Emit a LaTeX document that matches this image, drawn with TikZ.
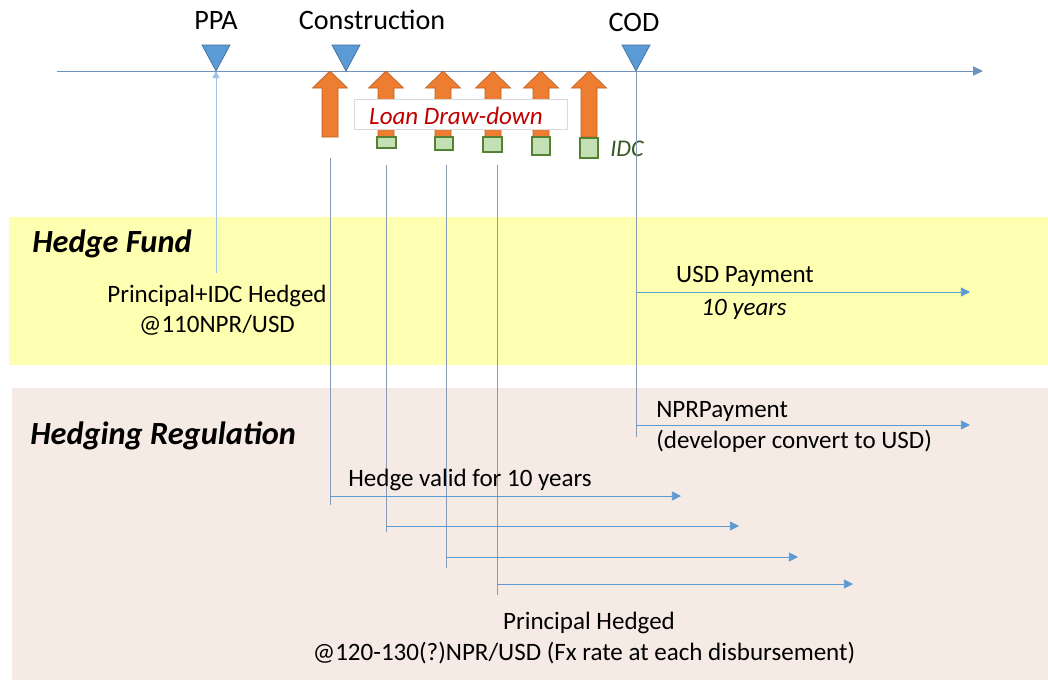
\documentclass[tikz,border=0pt]{standalone}
\usepackage{fontspec}
\setmainfont{Carlito}
\usetikzlibrary{arrows.meta}
\definecolor{axisblue}{RGB}{112,146,190}
\definecolor{lineblue}{RGB}{91,155,213}
\definecolor{paleblue}{RGB}{157,195,230}
\definecolor{stemgray}{RGB}{135,155,180}
\definecolor{markfill}{RGB}{91,155,213}
\definecolor{markdraw}{RGB}{65,113,156}
\definecolor{drawfill}{RGB}{237,125,49}
\definecolor{drawedge}{RGB}{190,95,35}
\definecolor{idcfill}{RGB}{197,224,180}
\definecolor{idcedge}{RGB}{84,130,53}
\definecolor{idctext}{RGB}{56,87,35}
\definecolor{loanred}{RGB}{192,0,0}
\definecolor{bandyellow}{RGB}{255,255,178}
\definecolor{bandpink}{RGB}{245,235,228}
\tikzstyle{arrow} = [lineblue,line width=0.6pt,-{Triangle[length=6.5pt,width=6.5pt]}]
\tikzstyle{stem} = [stemgray,line width=0.6pt]
\tikzstyle{marker} = [fill=markfill,draw=markdraw,line width=0.5pt]
\tikzstyle{drawdown} = [fill=drawfill,draw=drawedge,line width=0.5pt]
\tikzstyle{idcbox} = [fill=idcfill,draw=idcedge,line width=0.8pt]
\tikzstyle{label} = [inner sep=0pt,font=\fontsize{17.8}{20}\selectfont]
\tikzstyle{title} = [inner sep=0pt,font=\fontsize{20}{23}\selectfont]
\tikzstyle{band} = [inner sep=0pt,anchor=west,font=\fontsize{23}{26}\selectfont\bfseries\itshape]

\begin{document}
\begin{tikzpicture}[x=0.025cm,y=-0.025cm]
\useasboundingbox (0,0) rectangle (1048,680);
\fill [white] (0,0) rectangle (1048,680);
\fill [bandyellow] (9,217) rectangle (1048,365);
\fill [bandpink] (12,388) rectangle (1048,680);

\coordinate (start) at (57,71);
\coordinate (end) at (983,71);
\draw [axisblue,line width=0.7pt,-{Triangle[length=7pt,width=6.5pt]}] (start) -- (end);

\coordinate (ppa) at (216,71);
\coordinate (cons) at (346,71);
\coordinate (cod) at (636,71);
\draw [marker] (ppa) -- (202,45) -- (230,45) -- cycle;
\draw [marker] (cons) -- (332,45) -- (360,45) -- cycle;
\draw [marker] (cod) -- (622,45) -- (650,45) -- cycle;

\node [title] (ppalbl) at (216,20) {PPA};
\node [title] (conslbl) at (372,20) {Construction};
\node [title] (codlbl) at (634,22) {COD};

\coordinate (ppabot) at (216,273);
\draw [paleblue,line width=0.7pt,-{Triangle[length=5pt,width=5pt]}] (ppabot) -- (ppa);

\draw [drawdown] (330,71) -- (347.5,88) -- (338,88) -- (338,137) -- (322,137) -- (322,88) -- (312.5,88) -- cycle;
\draw [drawdown] (386,71) -- (403.5,88) -- (394,88) -- (394,137) -- (378,137) -- (378,88) -- (368.5,88) -- cycle;
\draw [drawdown] (443,71) -- (460.5,88) -- (451,88) -- (451,137) -- (435,137) -- (435,88) -- (425.5,88) -- cycle;
\draw [drawdown] (493,71) -- (510.5,88) -- (501,88) -- (501,137) -- (485,137) -- (485,88) -- (475.5,88) -- cycle;
\draw [drawdown] (541,71) -- (558.5,88) -- (549,88) -- (549,137) -- (533,137) -- (533,88) -- (523.5,88) -- cycle;
\draw [drawdown] (589,71) -- (606.5,88) -- (597,88) -- (597,137) -- (581,137) -- (581,88) -- (571.5,88) -- cycle;

\draw [idcbox] (377,137) rectangle (396,148);
\draw [idcbox] (435,137) rectangle (453,150);
\draw [idcbox] (483,137) rectangle (502,152);
\draw [idcbox] (532,137) rectangle (550,155);
\draw [idcbox] (580,138) rectangle (598,158);
\node [label,text=idctext,font=\fontsize{17}{19}\selectfont\itshape] (idc) at (627,149) {IDC};

\draw [fill=white,draw=black!15,line width=0.5pt] (354,99) rectangle (567,129);
\node [label,text=loanred,font=\fontsize{17.8}{20}\selectfont\itshape] (loan) at (456,116) {Loan Draw-down};

\node [band] (fund) at (32,244) {Hedge Fund};
\node [band] (reg) at (30,436) {Hedging Regulation};

\node [label] (pidc) at (217,296) {Principal+IDC Hedged};
\node [label] (pidcrate) at (217,325) {@110NPR/USD};

\coordinate (v1top) at (330,158);
\coordinate (v1bot) at (330,505);
\coordinate (v2top) at (386,165);
\coordinate (v2bot) at (386,532);
\coordinate (v3top) at (446,165);
\coordinate (v3bot) at (446,568);
\coordinate (v4top) at (497,165);
\coordinate (v4bot) at (497,595);
\coordinate (codbot) at (636,437);
\draw [stem] (v1top) -- (v1bot);
\draw [stem] (v2top) -- (v2bot);
\draw [stem] (v3top) -- (v3bot);
\draw [stem] (v4top) -- (v4bot);
\draw [stem] (cod) -- (codbot);

\coordinate (usd) at (636,292);
\coordinate (usdend) at (970,292);
\coordinate (npr) at (636,425);
\coordinate (nprend) at (970,425);
\draw [arrow] (usd) -- (usdend);
\draw [arrow] (npr) -- (nprend);

\node [label] (usdlbl) at (745,276) {USD Payment};
\node [label,font=\fontsize{17.8}{20}\selectfont\itshape] (usdyrs) at (744,309) {10 years};
\node [label,anchor=west] (nprlbl) at (656,411) {NPRPayment};
\node [label,anchor=west] (nprconv) at (656,441) {(developer convert to USD)};

\coordinate (h1) at (330,496);
\coordinate (h1end) at (681,496);
\coordinate (h2) at (386,526);
\coordinate (h2end) at (739,526);
\coordinate (h3) at (446,557);
\coordinate (h3end) at (798,557);
\coordinate (h4) at (497,584);
\coordinate (h4end) at (853,584);
\draw [arrow] (h1) -- (h1end);
\draw [arrow] (h2) -- (h2end);
\draw [arrow] (h3) -- (h3end);
\draw [arrow] (h4) -- (h4end);

\node [label] (valid) at (470,480) {Hedge valid for 10 years};
\node [label] (phedged) at (589,623) {Principal Hedged};
\node [label] (prate) at (584,653) {@120-130(?)NPR/USD (Fx rate at each disbursement)};
\end{tikzpicture}
\end{document}
